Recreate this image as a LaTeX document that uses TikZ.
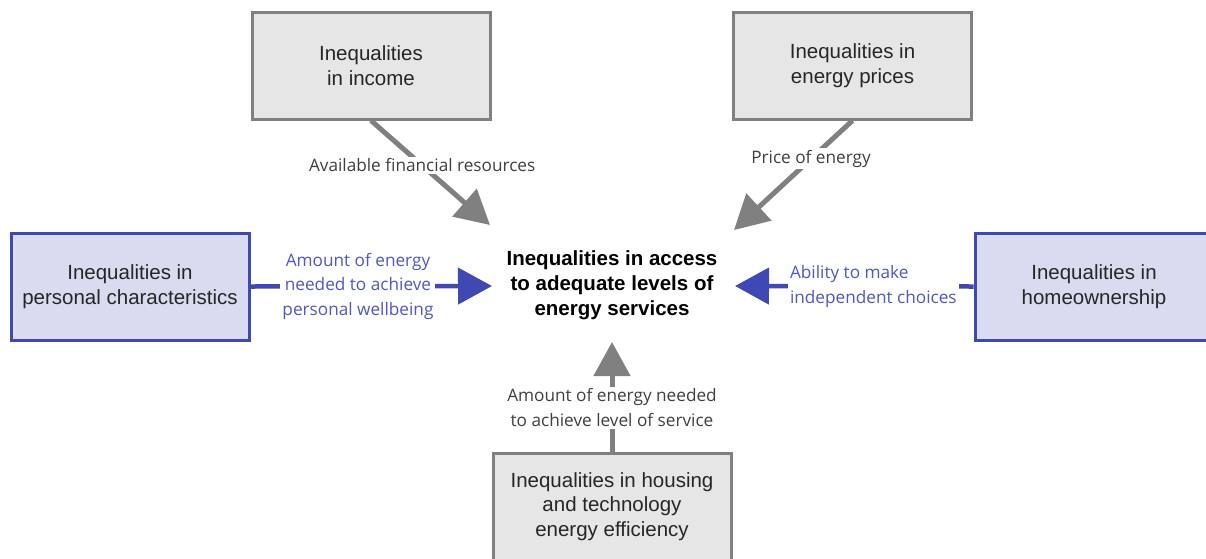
\documentclass[tikz,border=0pt]{standalone}
\usepackage{fontspec}
\setmainfont{Liberation Sans}
\newfontfamily\labelfont{Open Sans}
\usetikzlibrary{arrows.meta}
\definecolor{greyline}{HTML}{808080}
\definecolor{greyfill}{HTML}{E6E6E6}
\definecolor{blueline}{HTML}{4048B4}
\definecolor{bluefill}{HTML}{D9DBF0}
\definecolor{bluetext}{HTML}{5058C2}
\definecolor{labeltext}{HTML}{404040}
\definecolor{boxtext}{HTML}{262626}
\tikzset{
  factor/.style={draw, line width=3pt, minimum width=238pt, minimum height=107pt,
    align=center, text=boxtext, font=\fontsize{20.5}{24.5}\selectfont},
  greybox/.style={factor, draw=greyline, fill=greyfill},
  bluebox/.style={factor, draw=blueline, fill=bluefill},
  link/.style={line width=5pt, -{Triangle[length=34pt,width=36pt]}},
  greylink/.style={link, draw=greyline, fill=greyline},
  bluelink/.style={link, draw=blueline, fill=blueline, line width=4.5pt},
  lbl/.style={fill=white, inner sep=2pt, align=center,
    font=\labelfont\fontsize{17.2}{24.5}\selectfont},
  greylbl/.style={lbl, text=labeltext},
  bluelbl/.style={lbl, text=bluetext},
}
\begin{document}
\begin{tikzpicture}[x=1pt, y=-1pt]
  \useasboundingbox (0,0) rectangle (1206,558);
  \clip (0,0) rectangle (1206,558);

  % factor boxes
  \node[greybox] (income) at (371,65.5) {Inequalities\\in income};
  \node[greybox] (prices) at (852.5,65.5) {Inequalities in\\energy prices};
  \node[bluebox] (personal) at (130,286.5) {Inequalities in\\personal characteristics};
  \node[bluebox] (home) at (1094,286.5) {Inequalities in\\homeownership};
  \node[greybox] (housing) at (612,506.5) {Inequalities in housing\\and technology\\energy efficiency};

  % central outcome
  \node[align=center, text=black, font=\bfseries\fontsize{20.5}{25}\selectfont] (access)
    at (612,285) {Inequalities in access\\to adequate levels of\\energy services};

  % arrow tips around the outcome
  \coordinate (tipIncome) at (490,225);
  \coordinate (tipPrices) at (734,230);
  \coordinate (tipPersonal) at (492,286);
  \coordinate (tipHome) at (735,286);
  \coordinate (tipHousing) at (612,342);

  % connectors
  \draw[greylink] (income.south) -- (tipIncome)
    node[greylbl, pos=0.43] {Available financial resources};
  \draw[greylink] (prices.south) -- (tipPrices)
    node[greylbl, pos=0.35] {Price of energy};
  \draw[bluelink] (personal.east) -- (tipPersonal)
    node[bluelbl, pos=0.445] {Amount of energy\\needed to achieve\\personal wellbeing};
  \draw[bluelink] (home.west) -- (tipHome)
    node[bluelbl, align=left, pos=0.42] {Ability to make\\independent choices};
  \draw[greylink] (housing.north) -- (tipHousing)
    node[greylbl, pos=0.40] {Amount of energy needed\\to achieve level of service};
\end{tikzpicture}
\end{document}
